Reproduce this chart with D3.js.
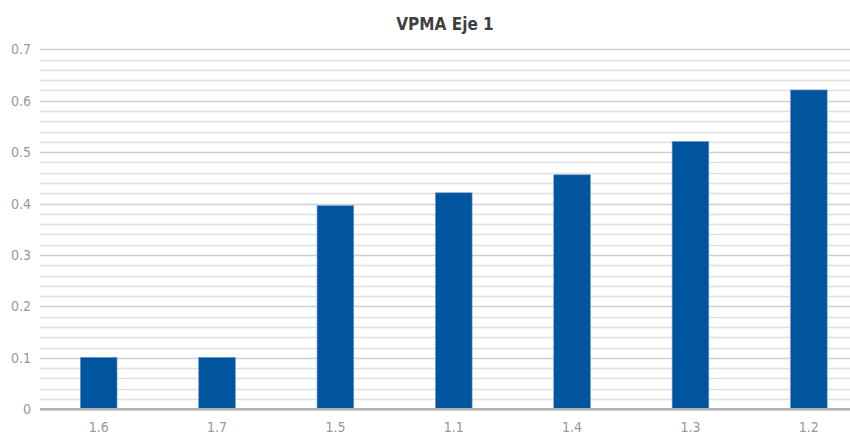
<!DOCTYPE html>
<html><head><meta charset="utf-8">
<script src="https://cdn.jsdelivr.net/npm/d3@7"></script>
<style>body{margin:0;background:#fff}</style>
</head><body>
<svg id="c" width="850" height="434"></svg>
<script>
const categories = ["1.6","1.7","1.5","1.1","1.4","1.3","1.2"];
const values = [0.101, 0.101, 0.396, 0.421, 0.456, 0.521, 0.621];
const majorTicks = [0,0.1,0.2,0.3,0.4,0.5,0.6,0.7];
const minorTicks = d3.range(0, 0.7001, 0.02);
const title = "VPMA Eje 1";

const svg = d3.select("#c");
const font = "'DejaVu Sans Condensed','Liberation Sans Narrow',sans-serif";
const x = d3.scaleBand().domain(categories).range([39.5, 868]).paddingInner(0.69).paddingOuter(0.345);
const y = d3.scaleLinear().domain([0,0.7]).range([409.3, 49.3]);

svg.append("g").selectAll("line").data(minorTicks).join("line")
  .attr("x1", 40).attr("x2", 850)
  .attr("y1", d=>Math.round(y(d))+0.5).attr("y2", d=>Math.round(y(d))+0.5)
  .attr("stroke", d => Math.abs(d*10 - Math.round(d*10))<1e-6 ? "#cfcfcf" : "#e0e0e0")
  .attr("stroke-width", 1.6);

svg.append("g").selectAll("rect").data(values).join("rect")
  .attr("x", (d,i)=>x(categories[i])).attr("width", x.bandwidth())
  .attr("y", d=>y(d)).attr("height", d=>y(0)-y(d))
  .attr("fill", "#00569e").attr("stroke","#6f9ccc").attr("stroke-width",0.6);

svg.append("line").attr("x1",40).attr("x2",850).attr("y1",y(0)).attr("y2",y(0))
  .attr("stroke","#b0b0b0").attr("stroke-width",2.5);

const yAxis = d3.axisLeft(y).tickValues(majorTicks).tickSize(0).tickPadding(0).tickFormat(d3.format("~g"));
const ga = svg.append("g").attr("transform","translate(31,0)").call(yAxis);
ga.select(".domain").remove();
ga.selectAll("text").attr("fill","#999").style("font-family",font).style("font-size","14px");

const xAxis = d3.axisBottom(x).tickSize(0).tickPadding(0);
const gx = svg.append("g").attr("transform","translate(0,422)").call(xAxis);
gx.select(".domain").remove();
gx.selectAll("text").attr("fill","#999").style("font-family",font).style("font-size","14px");

svg.append("text").attr("x",445).attr("y",30).attr("text-anchor","middle")
  .style("font-family",font).style("font-weight","bold").style("font-size","17px")
  .attr("fill","#3f3f3f").text(title);
</script>
</body></html>
